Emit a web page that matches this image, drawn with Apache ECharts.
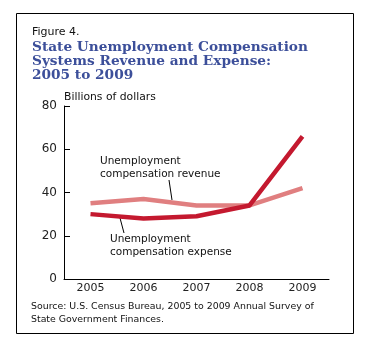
<!DOCTYPE html>
<html><head><meta charset="utf-8">
<script src="https://cdn.jsdelivr.net/npm/echarts@6/dist/echarts.min.js"></script>
<style>html,body{margin:0;padding:0;background:#fff}#c{width:367px;height:345px}</style>
</head><body><div id="c"></div>
<script>
const years = ['2005','2006','2007','2008','2009'];
const revenue = [35, 37, 34, 34, 42];
const expense = [30, 28, 29, 34, 66];
const yTicks = [0, 20, 40, 60, 80];

const chart = echarts.init(document.getElementById('c'), null, {renderer:'canvas'});
const sans = '"DejaVu Sans", sans-serif';
chart.setOption({
  animation:false,
  grid:{left:64, right:38, top:106, bottom:66, containLabel:false},
  xAxis:{type:'category', data:years, boundaryGap:true,
    axisLine:{lineStyle:{color:'#000', width:1}},
    axisTick:{inside:true, length:5, lineStyle:{color:'#000'}},
    axisLabel:{color:'#222', fontFamily:sans, fontSize:11, margin:4}},
  yAxis:{type:'value', min:yTicks[0], max:yTicks[yTicks.length-1], interval:20,
    axisLine:{show:true, lineStyle:{color:'#000', width:1}},
    axisTick:{show:true, inside:true, length:6, lineStyle:{color:'#000'}},
    splitLine:{show:false},
    axisLabel:{color:'#222', fontFamily:sans, fontSize:12, margin:7}},
  series:[
    {name:'Unemployment compensation revenue', type:'line', data:revenue, symbol:'none',
     lineStyle:{color:'#E07F80', width:4.5, cap:'butt'}, z:2},
    {name:'Unemployment compensation expense', type:'line', data:expense, symbol:'none',
     lineStyle:{color:'#C4192F', width:4.5, cap:'butt'}, z:3}
  ],
  graphic:[
    {type:'rect', shape:{x:16.5, y:13.5, width:337, height:320}, style:{fill:'none', stroke:'#000', lineWidth:1}},
    {type:'text', left:32, top:27, style:{text:'Figure 4.', font:'11px '+sans, fill:'#111'}},
    {type:'text', left:32, top:40, style:{text:'State Unemployment Compensation\nSystems Revenue and Expense:\n2005 to 2009', font:'bold 13.7px "DejaVu Serif", serif', fill:'#3C4F9A', lineHeight:14}},
    {type:'text', left:64, top:92, style:{text:'Billions of dollars', font:'10.8px '+sans, fill:'#111'}},
    {type:'text', left:100, top:155, style:{text:'Unemployment\ncompensation revenue', font:'10.5px '+sans, fill:'#111', lineHeight:13}},
    {type:'text', left:110, top:233, style:{text:'Unemployment\ncompensation expense', font:'10.5px '+sans, fill:'#111', lineHeight:13}},
    {type:'line', shape:{x1:169, y1:180, x2:172, y2:200}, style:{stroke:'#000', lineWidth:1}},
    {type:'line', shape:{x1:120, y1:218, x2:124, y2:233}, style:{stroke:'#000', lineWidth:1}},
    {type:'text', left:31, top:300, style:{text:'Source: U.S. Census Bureau, 2005 to 2009 Annual Survey of\nState Government Finances.', font:'9.4px '+sans, fill:'#111', lineHeight:13}}
  ]
});
</script></body></html>
